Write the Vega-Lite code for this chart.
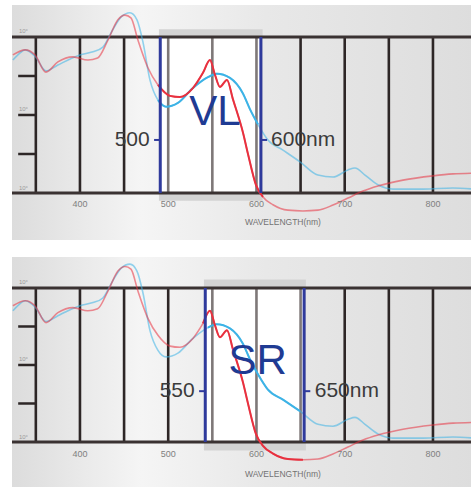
{
  "$schema": "https://vega.github.io/schema/vega-lite/v6.json",
  "padding": {"left": 9, "top": 5, "right": 0, "bottom": 0},
  "background": "white",
  "spacing": 17,
  "config": {"view": {"stroke": null}},
  "datasets": {
    "curves": [
      {"s":"blue","nm":324,"v":3.41},{"s":"blue","nm":330,"v":3.55},{"s":"blue","nm":338,"v":3.67},{"s":"blue","nm":349,"v":3.51},{"s":"blue","nm":361.5,"v":3.13},{"s":"blue","nm":375,"v":3.28},{"s":"blue","nm":390,"v":3.45},{"s":"blue","nm":400,"v":3.54},{"s":"blue","nm":414.7,"v":3.62},{"s":"blue","nm":426,"v":3.74},{"s":"blue","nm":437,"v":4.18},{"s":"blue","nm":446.5,"v":4.51},{"s":"blue","nm":456.7,"v":4.62},{"s":"blue","nm":464.6,"v":4.44},{"s":"blue","nm":471.4,"v":3.87},{"s":"blue","nm":479.3,"v":2.9},{"s":"blue","nm":488.4,"v":2.38},{"s":"blue","nm":497.5,"v":2.21},{"s":"blue","nm":511,"v":2.31},{"s":"blue","nm":528,"v":2.69},{"s":"blue","nm":545,"v":2.97},{"s":"blue","nm":555,"v":3.06},{"s":"blue","nm":570,"v":2.95},{"s":"blue","nm":584.7,"v":2.55},{"s":"blue","nm":592.6,"v":2.15},{"s":"blue","nm":601.7,"v":1.76},{"s":"blue","nm":613,"v":1.36},{"s":"blue","nm":630,"v":1.1},{"s":"blue","nm":649.3,"v":0.8},{"s":"blue","nm":669.7,"v":0.46},{"s":"blue","nm":686.7,"v":0.41},{"s":"blue","nm":703.7,"v":0.59},{"s":"blue","nm":711.6,"v":0.64},{"s":"blue","nm":723,"v":0.46},{"s":"blue","nm":737.7,"v":0.21},{"s":"blue","nm":754.7,"v":0.1},{"s":"blue","nm":788.7,"v":0.1},{"s":"blue","nm":822.7,"v":0.13},{"s":"blue","nm":846.5,"v":0.1},
      {"s":"red","nm":324,"v":3.54},{"s":"red","nm":338,"v":3.67},{"s":"red","nm":349,"v":3.54},{"s":"red","nm":361.5,"v":3.1},{"s":"red","nm":375,"v":3.36},{"s":"red","nm":392,"v":3.49},{"s":"red","nm":409,"v":3.41},{"s":"red","nm":420,"v":3.46},{"s":"red","nm":431.7,"v":3.92},{"s":"red","nm":443,"v":4.44},{"s":"red","nm":451,"v":4.56},{"s":"red","nm":457.8,"v":4.49},{"s":"red","nm":465.7,"v":3.92},{"s":"red","nm":477,"v":3.21},{"s":"red","nm":488.4,"v":2.77},{"s":"red","nm":502,"v":2.49},{"s":"red","nm":513.3,"v":2.46},{"s":"red","nm":528,"v":2.69},{"s":"red","nm":539.4,"v":3.08},{"s":"red","nm":547.3,"v":3.41},{"s":"red","nm":553,"v":3.03},{"s":"red","nm":558.6,"v":2.72},{"s":"red","nm":566.6,"v":2.9},{"s":"red","nm":573.4,"v":2.4},{"s":"red","nm":584.7,"v":1.55},{"s":"red","nm":590.4,"v":1.0},{"s":"red","nm":599.4,"v":0.21},{"s":"red","nm":607.4,"v":-0.1},{"s":"red","nm":618.7,"v":-0.3},{"s":"red","nm":635.7,"v":-0.44},{"s":"red","nm":652.7,"v":-0.46},{"s":"red","nm":669.7,"v":-0.44},{"s":"red","nm":686.7,"v":-0.31},{"s":"red","nm":703.7,"v":-0.13},{"s":"red","nm":720.7,"v":0.05},{"s":"red","nm":737.7,"v":0.18},{"s":"red","nm":766,"v":0.33},{"s":"red","nm":800,"v":0.44},{"s":"red","nm":822.7,"v":0.49},{"s":"red","nm":846.5,"v":0.51}
    ],
    "grid": [{"nm":350},{"nm":400},{"nm":450},{"nm":500},{"nm":550},{"nm":600},{"nm":650},{"nm":700},{"nm":750},{"nm":800}],
    "hlines": [{"v":0},{"v":4}],
    "lticks": [{"v":1},{"v":2},{"v":3}],
    "xlabels": [{"nm":400,"t":"400"},{"nm":500,"t":"500"},{"nm":600,"t":"600"},{"nm":700,"t":"700"},{"nm":800,"t":"800"}],
    "ylabels": [{"v":4.15,"t":"10°"},{"v":2.15,"t":"10°"},{"v":0.13,"t":"10°"}]
  },
  "vconcat": [
    {
      "width": 462, "height": 235,
      "layer": [
        {"data":{"values":[{"a":1}]},
         "mark":{"type":"rect","color":{"gradient":"linear","x1":0,"y1":0,"x2":1,"y2":0,"stops":[{"offset":0,"color":"#dcdcdc"},{"offset":0.28,"color":"#f5f5f5"},{"offset":0.55,"color":"#e8e8e8"},{"offset":1,"color":"#dddddd"}]}},
         "encoding":{"x":{"datum":323,"type":"quantitative","scale":{"domain":[323,846.5],"nice":false,"zero":false},"axis":null},"x2":{"datum":846.5},
                     "y":{"datum":-1.205,"type":"quantitative","scale":{"domain":[-1.205,4.82],"nice":false,"zero":false},"axis":null},"y2":{"datum":4.82}}},
        {"data":{"values":[{"a":489.5,"b":607,"lo":-0.2,"hi":4.2}]},
         "mark":{"type":"rect","color":"#d3d3d3"},
         "encoding":{"x":{"field":"a","type":"quantitative"},"x2":{"field":"b"},"y":{"field":"lo","type":"quantitative"},"y2":{"field":"hi"}}},
        {"data":{"values":[{"a":491,"b":605,"lo":0,"hi":4}]},
         "mark":{"type":"rect","color":"#ffffff"},
         "encoding":{"x":{"field":"a","type":"quantitative"},"x2":{"field":"b"},"y":{"field":"lo","type":"quantitative"},"y2":{"field":"hi"}}},
        {"data":{"name":"grid"},
         "mark":{"type":"rule","strokeWidth":2.6},
         "encoding":{"x":{"field":"nm","type":"quantitative"},"y":{"datum":0,"type":"quantitative"},"y2":{"datum":4},
                     "color":{"condition":{"test":"datum.nm >= 500 && datum.nm <= 600","value":"#7e7878"},"value":"#2d2626"}}},
        {"data":{"name":"hlines"},
         "mark":{"type":"rule","strokeWidth":3,"color":"#3a3232"},
         "encoding":{"y":{"field":"v","type":"quantitative"}}},
        {"data":{"name":"lticks"},
         "mark":{"type":"rule","strokeWidth":2.5,"color":"#2d2626"},
         "encoding":{"x":{"datum":330,"type":"quantitative"},"x2":{"datum":350},"y":{"field":"v","type":"quantitative"}}},
        {"data":{"name":"ylabels"},
         "mark":{"type":"text","fontSize":6,"color":"#9a9a9a","font":"Liberation Sans"},
         "encoding":{"x":{"datum":336,"type":"quantitative"},"y":{"field":"v","type":"quantitative"},"text":{"field":"t"}}},
        {"data":{"name":"curves"},
         "mark":{"type":"line","strokeWidth":1.6,"opacity":0.55,"interpolate":"monotone"},
         "encoding":{"x":{"field":"nm","type":"quantitative"},"y":{"field":"v","type":"quantitative"},
                     "color":{"field":"s","type":"nominal","scale":{"domain":["blue","red"],"range":["#3db3e6","#e8313f"]},"legend":null}}},
        {"data":{"name":"curves"},
         "transform":[{"filter":"datum.nm >= 488 && datum.nm <= 608"}],
         "mark":{"type":"line","strokeWidth":2,"interpolate":"monotone"},
         "encoding":{"x":{"field":"nm","type":"quantitative"},"y":{"field":"v","type":"quantitative"},
                     "color":{"field":"s","type":"nominal","scale":{"domain":["blue","red"],"range":["#3db3e6","#e8313f"]},"legend":null}}},
        {"data":{"values":[{"nm":491},{"nm":605}]},
         "mark":{"type":"rule","strokeWidth":3,"color":"#2f3a9c"},
         "encoding":{"x":{"field":"nm","type":"quantitative"},"y":{"datum":0,"type":"quantitative"},"y2":{"datum":4}}},
        {"data":{"values":[{"a":484,"b":491,"v":1.36},{"a":605,"b":612,"v":1.36}]},
         "mark":{"type":"rule","strokeWidth":2,"color":"#2f3a9c"},
         "encoding":{"x":{"field":"a","type":"quantitative"},"x2":{"field":"b"},"y":{"field":"v","type":"quantitative"}}},
        {"data":{"values":[{"nm":479,"v":1.36,"t":"500"}]},
         "mark":{"type":"text","align":"right","baseline":"middle","fontSize":21,"color":"#3b3b3b","font":"Liberation Sans"},
         "encoding":{"x":{"field":"nm","type":"quantitative"},"y":{"field":"v","type":"quantitative"},"text":{"field":"t"}}},
        {"data":{"values":[{"nm":616.5,"v":1.36,"t":"600nm"}]},
         "mark":{"type":"text","align":"left","baseline":"middle","fontSize":21,"color":"#3b3b3b","font":"Liberation Sans"},
         "encoding":{"x":{"field":"nm","type":"quantitative"},"y":{"field":"v","type":"quantitative"},"text":{"field":"t"}}},
        {"data":{"values":[{"nm":553,"v":2.08,"t":"VL"}]},
         "mark":{"type":"text","align":"center","baseline":"middle","fontSize":42,"color":"#1f3b93","font":"Liberation Sans"},
         "encoding":{"x":{"field":"nm","type":"quantitative"},"y":{"field":"v","type":"quantitative"},"text":{"field":"t"}}},
        {"data":{"name":"xlabels"},
         "mark":{"type":"text","align":"center","baseline":"middle","fontSize":9,"color":"#808080","font":"Liberation Sans"},
         "encoding":{"x":{"field":"nm","type":"quantitative"},"y":{"datum":-0.27,"type":"quantitative"},"text":{"field":"t"}}},
        {"data":{"values":[{"nm":630,"t":"WAVELENGTH(nm)"}]},
         "mark":{"type":"text","align":"center","baseline":"middle","fontSize":8.5,"color":"#727272","font":"Liberation Sans"},
         "encoding":{"x":{"field":"nm","type":"quantitative"},"y":{"datum":-0.75,"type":"quantitative"},"text":{"field":"t"}}}
      ]
    },
    {
      "width": 462, "height": 230,
      "layer": [
        {"data":{"values":[{"a":1}]},
         "mark":{"type":"rect","color":{"gradient":"linear","x1":0,"y1":0,"x2":1,"y2":0,"stops":[{"offset":0,"color":"#dcdcdc"},{"offset":0.28,"color":"#f5f5f5"},{"offset":0.55,"color":"#e8e8e8"},{"offset":1,"color":"#dddddd"}]}},
         "encoding":{"x":{"datum":323,"type":"quantitative","scale":{"domain":[323,846.5],"nice":false,"zero":false},"axis":null},"x2":{"datum":846.5},
                     "y":{"datum":-1.169,"type":"quantitative","scale":{"domain":[-1.169,4.805],"nice":false,"zero":false},"axis":null},"y2":{"datum":4.805}}},
        {"data":{"values":[{"a":540.5,"b":656,"lo":-0.22,"hi":4.22}]},
         "mark":{"type":"rect","color":"#d3d3d3"},
         "encoding":{"x":{"field":"a","type":"quantitative"},"x2":{"field":"b"},"y":{"field":"lo","type":"quantitative"},"y2":{"field":"hi"}}},
        {"data":{"values":[{"a":542,"b":654,"lo":0,"hi":4}]},
         "mark":{"type":"rect","color":"#ffffff"},
         "encoding":{"x":{"field":"a","type":"quantitative"},"x2":{"field":"b"},"y":{"field":"lo","type":"quantitative"},"y2":{"field":"hi"}}},
        {"data":{"name":"grid"},
         "mark":{"type":"rule","strokeWidth":2.6},
         "encoding":{"x":{"field":"nm","type":"quantitative"},"y":{"datum":0,"type":"quantitative"},"y2":{"datum":4},
                     "color":{"condition":{"test":"datum.nm >= 550 && datum.nm <= 650","value":"#7e7878"},"value":"#2d2626"}}},
        {"data":{"name":"hlines"},
         "mark":{"type":"rule","strokeWidth":3,"color":"#3a3232"},
         "encoding":{"y":{"field":"v","type":"quantitative"}}},
        {"data":{"name":"lticks"},
         "mark":{"type":"rule","strokeWidth":2.5,"color":"#2d2626"},
         "encoding":{"x":{"datum":330,"type":"quantitative"},"x2":{"datum":350},"y":{"field":"v","type":"quantitative"}}},
        {"data":{"name":"ylabels"},
         "mark":{"type":"text","fontSize":6,"color":"#9a9a9a","font":"Liberation Sans"},
         "encoding":{"x":{"datum":336,"type":"quantitative"},"y":{"field":"v","type":"quantitative"},"text":{"field":"t"}}},
        {"data":{"name":"curves"},
         "mark":{"type":"line","strokeWidth":1.6,"opacity":0.55,"interpolate":"monotone"},
         "encoding":{"x":{"field":"nm","type":"quantitative"},"y":{"field":"v","type":"quantitative"},
                     "color":{"field":"s","type":"nominal","scale":{"domain":["blue","red"],"range":["#3db3e6","#e8313f"]},"legend":null}}},
        {"data":{"name":"curves"},
         "transform":[{"filter":"datum.nm >= 539 && datum.nm <= 656"}],
         "mark":{"type":"line","strokeWidth":2,"interpolate":"monotone"},
         "encoding":{"x":{"field":"nm","type":"quantitative"},"y":{"field":"v","type":"quantitative"},
                     "color":{"field":"s","type":"nominal","scale":{"domain":["blue","red"],"range":["#3db3e6","#e8313f"]},"legend":null}}},
        {"data":{"values":[{"nm":542},{"nm":654}]},
         "mark":{"type":"rule","strokeWidth":3,"color":"#2f3a9c"},
         "encoding":{"x":{"field":"nm","type":"quantitative"},"y":{"datum":0,"type":"quantitative"},"y2":{"datum":4}}},
        {"data":{"values":[{"a":535,"b":542,"v":1.32},{"a":654,"b":661,"v":1.32}]},
         "mark":{"type":"rule","strokeWidth":2,"color":"#2f3a9c"},
         "encoding":{"x":{"field":"a","type":"quantitative"},"x2":{"field":"b"},"y":{"field":"v","type":"quantitative"}}},
        {"data":{"values":[{"nm":530,"v":1.32,"t":"550"}]},
         "mark":{"type":"text","align":"right","baseline":"middle","fontSize":21,"color":"#3b3b3b","font":"Liberation Sans"},
         "encoding":{"x":{"field":"nm","type":"quantitative"},"y":{"field":"v","type":"quantitative"},"text":{"field":"t"}}},
        {"data":{"values":[{"nm":666,"v":1.32,"t":"650nm"}]},
         "mark":{"type":"text","align":"left","baseline":"middle","fontSize":21,"color":"#3b3b3b","font":"Liberation Sans"},
         "encoding":{"x":{"field":"nm","type":"quantitative"},"y":{"field":"v","type":"quantitative"},"text":{"field":"t"}}},
        {"data":{"values":[{"nm":601.5,"v":2.1,"t":"SR"}]},
         "mark":{"type":"text","align":"center","baseline":"middle","fontSize":42,"color":"#1f3b93","font":"Liberation Sans"},
         "encoding":{"x":{"field":"nm","type":"quantitative"},"y":{"field":"v","type":"quantitative"},"text":{"field":"t"}}},
        {"data":{"name":"xlabels"},
         "mark":{"type":"text","align":"center","baseline":"middle","fontSize":9,"color":"#808080","font":"Liberation Sans"},
         "encoding":{"x":{"field":"nm","type":"quantitative"},"y":{"datum":-0.31,"type":"quantitative"},"text":{"field":"t"}}},
        {"data":{"values":[{"nm":630,"t":"WAVELENGTH(nm)"}]},
         "mark":{"type":"text","align":"center","baseline":"middle","fontSize":8.5,"color":"#727272","font":"Liberation Sans"},
         "encoding":{"x":{"field":"nm","type":"quantitative"},"y":{"datum":-0.83,"type":"quantitative"},"text":{"field":"t"}}}
      ]
    }
  ]
}
